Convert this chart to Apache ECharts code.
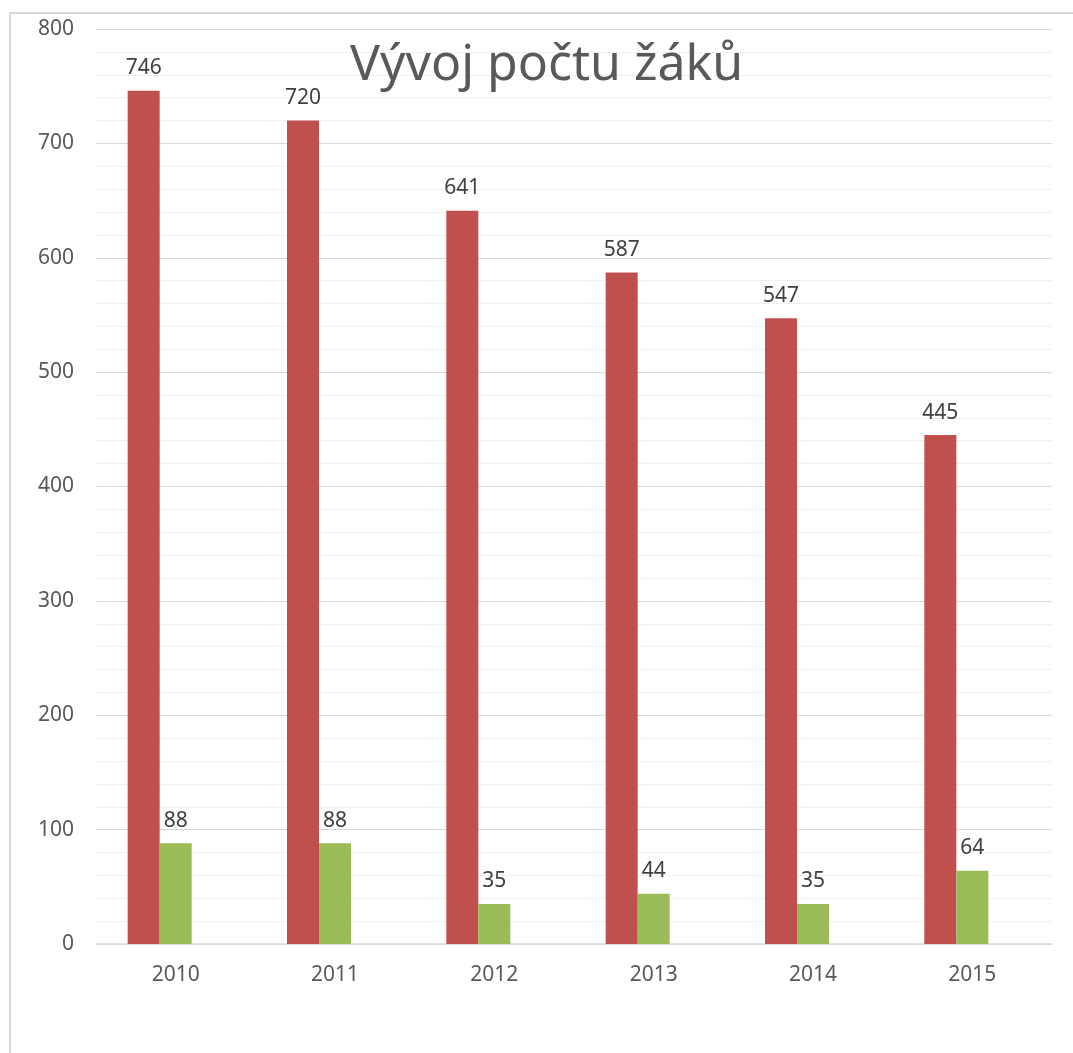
<!DOCTYPE html>
<html>
<head>
<meta charset="utf-8">
<title>Vývoj počtu žáků</title>
<script src="https://cdn.jsdelivr.net/npm/echarts@6/dist/echarts.min.js"></script>
<style>
  html, body { margin: 0; padding: 0; background: #ffffff; }
  #chart { width: 1073px; height: 1053px; }
</style>
</head>
<body>
<div id="chart"></div>
<script>
const years = ['2010', '2011', '2012', '2013', '2014', '2015'];
const redValues = [746, 720, 641, 587, 547, 445];
const greenValues = [88, 88, 35, 44, 35, 64];
const emptyValues = [null, null, null, null, null, null]; // third (empty) series in the source chart
const yTicks = { min: 0, max: 800, interval: 100 };

const chart = echarts.init(document.getElementById('chart'));

const labelStyle = {
    show: true,
    position: 'top',
    distance: 12,
    color: '#404040',
    fontFamily: 'Noto Sans',
    fontSize: 21
};

chart.setOption({
    backgroundColor: '#ffffff',
    animation: false,
    title: {
        text: 'Vývoj počtu žáků',
        left: 345,
        top: 36,
        textStyle: {
            fontFamily: 'Noto Sans',
            fontSize: 50,
            fontWeight: 'normal',
            color: '#595959'
        }
    },
    graphic: [{
        type: 'rect',
        shape: { x: 10, y: 13, width: 1100, height: 1100 },
        style: { fill: 'none', stroke: '#d9d9d9', lineWidth: 2 },
        z: -1
    }],
    grid: { left: 96, right: 21, top: 29, bottom: 109 },
    xAxis: {
        type: 'category',
        data: years,
        axisLine: { lineStyle: { color: '#d9d9d9', width: 1.5 } },
        axisTick: { show: false },
        axisLabel: {
            color: '#595959',
            fontFamily: 'Noto Sans',
            fontSize: 21,
            margin: 21
        }
    },
    yAxis: {
        type: 'value',
        min: yTicks.min,
        max: yTicks.max,
        interval: yTicks.interval,
        axisLine: { show: false },
        axisTick: { show: false },
        axisLabel: {
            color: '#595959',
            fontFamily: 'Noto Sans',
            fontSize: 21,
            margin: 22
        },
        splitLine: { lineStyle: { color: '#d9d9d9', width: 1 } },
        minorTick: { show: false, splitNumber: 5 },
        minorSplitLine: { show: true, lineStyle: { color: '#f0f0f0', width: 1 } }
    },
    series: [
        {
            type: 'bar',
            data: redValues,
            barWidth: 32,
            barGap: '0%',
            itemStyle: { color: '#C0504D' },
            label: labelStyle
        },
        {
            type: 'bar',
            data: greenValues,
            barWidth: 32,
            barGap: '0%',
            itemStyle: { color: '#9BBB59' },
            label: labelStyle
        },
        {
            type: 'bar',
            data: emptyValues,
            barWidth: 32,
            barGap: '0%',
            itemStyle: { color: '#4F81BD' }
        }
    ]
});
</script>
</body>
</html>
